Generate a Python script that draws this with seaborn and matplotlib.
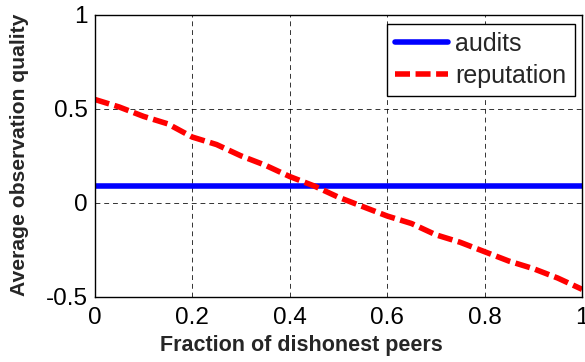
import numpy as np
import pandas as pd
import matplotlib
matplotlib.use("Agg")
import matplotlib.pyplot as plt
import seaborn as sns

frac = [0.0, 0.05, 0.1, 0.15, 0.2, 0.25, 0.3, 0.35, 0.4, 0.45, 0.5,
        0.55, 0.6, 0.65, 0.7, 0.75, 0.8, 0.85, 0.9, 0.95, 1.0]
audits = [0.09] * len(frac)
reputation = [0.55, 0.51, 0.46, 0.42, 0.35, 0.31, 0.25, 0.20, 0.14, 0.09, 0.03,
              -0.02, -0.07, -0.11, -0.17, -0.21, -0.26, -0.31, -0.35, -0.40, -0.46]
xticks = [0, 0.2, 0.4, 0.6, 0.8, 1]
xticklabels = ["0", "0.2", "0.4", "0.6", "0.8", "1"]
yticks = [-0.5, 0, 0.5, 1]
yticklabels = ["-0.5", "0", "0.5", "1"]

sns.set_style("white")
plt.rcParams['font.family'] = ['Liberation Sans', 'DejaVu Sans']

df = pd.DataFrame({"x": frac * 2,
                   "y": audits + reputation,
                   "series": ["audits"] * len(frac) + ["reputation"] * len(frac)})

fig = plt.figure(figsize=(5.85, 3.62), dpi=100)
ax = fig.add_axes([0.162, 0.180, 0.833, 0.779])

sns.lineplot(data=df, x="x", y="y", hue="series", style="series",
             palette={"audits": "#0000ff", "reputation": "#ff0000"},
             dashes={"audits": "", "reputation": (2.7, 1.0)},
             linewidth=4.0, ax=ax, legend=True)

ax.set_xlim(0, 1)
ax.set_ylim(-0.5, 1)
ax.set_xticks(xticks)
ax.set_xticklabels(xticklabels)
ax.set_yticks(yticks)
ax.set_yticklabels(yticklabels)
ax.tick_params(direction="in", length=4, width=0.8, labelsize=17.5, colors="black")
ax.tick_params(axis="x", pad=7.5)
ax.tick_params(axis="y", pad=5)
ax.grid(True, color="black", linestyle=(0, (5, 4)), linewidth=0.7, alpha=0.8)
for s in ax.spines.values():
    s.set_color("black")
    s.set_linewidth(1.0)

ax.set_xlabel("Fraction of dishonest peers", fontsize=15.5, fontweight="bold")
ax.set_ylabel("Average observation quality", fontsize=15.2, fontweight="bold")
ax.xaxis.set_label_coords(0.423, -0.135)
ax.yaxis.set_label_coords(-0.135, 0.505)

handles, labels = ax.get_legend_handles_labels()
leg = ax.legend(handles=handles, labels=labels, loc="upper right", fontsize=18,
                frameon=True, fancybox=False, edgecolor="black", framealpha=1,
                handlelength=2.1, borderpad=0.33, labelspacing=0.3, handletextpad=0.3,
                borderaxespad=0, bbox_to_anchor=(0.985, 0.968))
leg.get_frame().set_linewidth(1.0)
for line in leg.get_lines():
    line.set_linewidth(4.0)

fig.savefig("out.png", dpi=100)
